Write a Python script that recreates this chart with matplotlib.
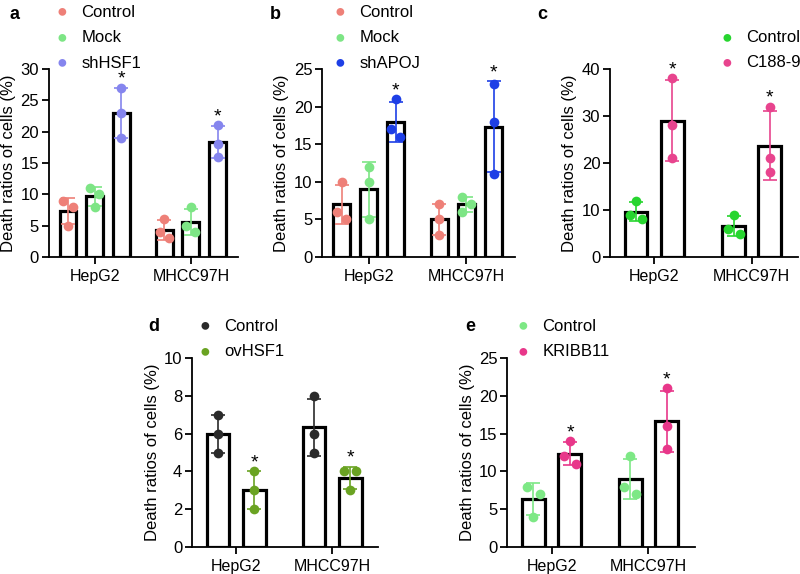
import numpy as np
import matplotlib
matplotlib.use("Agg")
import matplotlib.pyplot as plt

plt.rcParams['font.family'] = ['Liberation Sans', 'DejaVu Sans']

cells = ["HepG2", "MHCC97H"]
ylabel = "Death ratios of cells (%)"

# panel a
a_groups = ["Control", "Mock", "shHSF1"]
a_vals = [[[9, 8, 5], [11, 10, 8], [27, 23, 19]],
          [[6, 4, 3], [8, 5, 4], [21, 18, 16]]]
a_colors = ["#EE8078", "#7DE585", "#8585EE"]
a_star = [False, False, True]

# panel b
b_groups = ["Control", "Mock", "shAPOJ"]
b_vals = [[[10, 6, 5], [12, 10, 5], [21, 17, 16]],
          [[7, 5, 3], [8, 7, 6], [23, 18, 11]]]
b_colors = ["#EE8078", "#7DE585", "#1E3FE6"]
b_star = [False, False, True]

# panel c
c_groups = ["Control", "C188-9"]
c_vals = [[[12, 8, 9], [38, 28, 21]],
          [[9, 5, 6], [32, 21, 18]]]
c_colors = ["#27D52F", "#E8448E"]
c_star = [False, True]

# panel d
d_groups = ["Control", "ovHSF1"]
d_vals = [[[7, 6, 5], [4, 3, 2]],
          [[8, 6, 5], [4, 4, 3]]]
d_colors = ["#2A2A2A", "#6AA322"]
d_star = [False, True]

# panel e
e_groups = ["Control", "KRIBB11"]
e_vals = [[[8, 7, 4], [14, 12, 11]],
          [[12, 8, 7], [21, 16, 13]]]
e_colors = ["#7DE885", "#E8378A"]
e_star = [False, True]


def swarm(vals, ymax):
    # spread points that would overlap, like prism
    thr = ymax * 0.045
    offs = [0.0] * len(vals)
    order = np.argsort(vals)[::-1]
    placed = []
    for i in order:
        close = [j for j in placed if abs(vals[j] - vals[i]) < thr]
        if close:
            if len(close) == 1 and offs[close[0]] == 0:
                offs[close[0]] = -0.17
                offs[i] = 0.17
            else:
                offs[i] = 0.17 if sum(offs[j] for j in close) <= 0 else -0.17
        placed.append(i)
    return offs


def panel(rect, groups, vals, colors, stars, ymax, ystep, gap, leg_x, leg_y):
    ax = fig.add_axes(rect)
    n = len(groups)
    w = 0.63
    centers = []
    for ci in range(len(cells)):
        base = ci * (n - 1 + gap)
        centers.append(base + (n - 1) / 2)
        for gi in range(n):
            x = base + gi
            v = np.array(vals[ci][gi], dtype=float)
            m = v.mean()
            sd = v.std(ddof=1)
            ax.bar(x, m, width=w, color="white", edgecolor="black", linewidth=2.3, zorder=2)
            ax.errorbar(x, m, yerr=sd, color=colors[gi], capsize=5, capthick=1.2,
                        elinewidth=1.2, zorder=3)
            offs = swarm(list(v), ymax)
            ax.plot(x + np.array(offs), v, "o", color=colors[gi], ms=7, mec="none", zorder=4)
            if stars[gi]:
                top = max(m + sd, v.max())
                ax.text(x, top + ymax * 0.045, "*", ha="center", va="center", fontsize=14)
    last = (len(cells) - 1) * (n - 1 + gap) + n - 1
    ax.set_xlim(-0.72, last + 0.78)
    ax.set_ylim(0, ymax)
    ax.set_yticks(np.arange(0, ymax + 0.01, ystep))
    ax.set_xticks(centers)
    ax.set_xticklabels(cells, fontsize=11.5)
    ax.tick_params(axis="y", labelsize=12, length=5, width=1.3, pad=2)
    ax.tick_params(axis="x", length=5, width=1.3)
    ax.spines["top"].set_visible(False)
    ax.spines["right"].set_visible(False)
    for s in ["left", "bottom"]:
        ax.spines[s].set_linewidth(1.3)
    ax.set_ylabel(ylabel, fontsize=12, labelpad=3)
    # legend above axes
    for gi in range(n):
        yy = leg_y - gi * 0.0445
        fig.text(leg_x, yy, "\u25CF", color=colors[gi], fontsize=13, ha="center", va="center")
        fig.text(leg_x + 0.024, yy, groups[gi], fontsize=12, ha="left", va="center")
    return ax


fig = plt.figure(figsize=(8, 5.74), dpi=100)

panel([0.061, 0.552, 0.237, 0.328], a_groups, a_vals, a_colors, a_star, 30, 5, 1.6, 0.0775, 0.979)
panel([0.4025, 0.552, 0.241, 0.328], b_groups, b_vals, b_colors, b_star, 25, 5, 1.6, 0.425, 0.979)
panel([0.7625, 0.552, 0.235, 0.328], c_groups, c_vals, c_colors, c_star, 40, 10, 1.7, 0.909, 0.935)
panel([0.24, 0.047, 0.233, 0.329], d_groups, d_vals, d_colors, d_star, 10, 2, 1.65, 0.256, 0.432)
panel([0.634, 0.047, 0.235, 0.329], e_groups, e_vals, e_colors, e_star, 25, 5, 1.65, 0.654, 0.432)

for lab, x, y in [("a", 0.012, 0.974), ("b", 0.337, 0.974), ("c", 0.672, 0.974),
                  ("d", 0.185, 0.432), ("e", 0.582, 0.432)]:
    fig.text(x, y, lab, fontsize=13, fontweight="bold", ha="left", va="center")

fig.savefig("out.png", dpi=100)
